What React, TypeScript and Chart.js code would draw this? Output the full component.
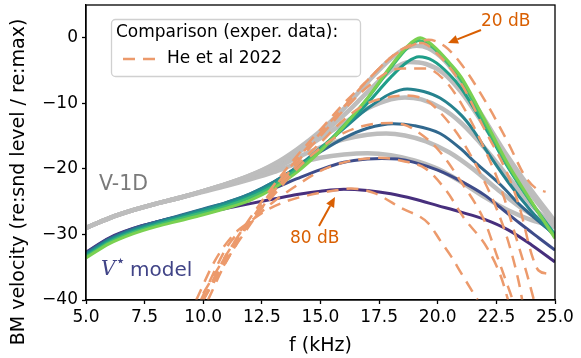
import React, { useEffect, useRef } from 'react';
import { Chart, registerables } from 'chart.js';

Chart.register(...registerables);

type P = [number, number];

// x axis / y axis ticks
const X_TICKS = [5, 7.5, 10, 12.5, 15, 17.5, 20, 22.5, 25];
const Y_TICKS = [-40, -30, -20, -10, 0];

// V* model curves (f in kHz, dB), levels 20..80 dB
const vStar20: P[] = [[5,-33.6],[6,-31.4],[7,-29.9],[8,-28.8],[9,-27.9],[10,-27],[11,-26],[12,-24.8],[13,-23],[14,-20.5],[15,-17.3],[16,-13.5],[17,-9.2],[18,-4.3],[18.7,-1.3],[19.25,0],[19.8,-1.2],[20.5,-3.8],[21,-6],[22,-12.5],[23,-19.3],[24,-25],[25,-30.6]];
const vStar30: P[] = [[5,-33.4],[6,-31.2],[7,-29.7],[8,-28.6],[9,-27.6],[10,-26.7],[11,-25.7],[12,-24.4],[13,-22.6],[14,-20.1],[15,-17],[16,-13.4],[17,-9.3],[18,-4.6],[18.7,-1.6],[19.2,-0.4],[19.8,-1.5],[20.5,-4.2],[21,-6.5],[22,-13],[23,-19.6],[24,-25.2],[25,-30.3]];
const vStar40: P[] = [[5,-33.2],[6,-31],[7,-29.5],[8,-28.4],[9,-27.4],[10,-26.4],[11,-25.4],[12,-24.1],[13,-22.3],[14,-19.9],[15,-17],[16,-13.7],[17,-10],[18,-6],[18.7,-3.7],[19.2,-2.9],[19.8,-3.5],[20.5,-5.6],[21,-7.7],[22,-13.5],[23,-19.8],[24,-25.2],[25,-30]];
const vStar50: P[] = [[5,-33],[6,-30.8],[7,-29.3],[8,-28.2],[9,-27.2],[10,-26.2],[11,-25.1],[12,-23.8],[13,-22],[14,-19.7],[15,-16.8],[16,-13.8],[17,-10.8],[18,-8.5],[18.7,-7.8],[19.4,-8.2],[20.1,-9.2],[21,-11.8],[21.5,-14],[22,-16.8],[23,-22],[24,-26.5],[25,-30.3]];
const vStar60: P[] = [[5,-32.9],[6,-30.7],[7,-29.2],[8,-28.1],[9,-27.1],[10,-26.1],[11,-25.1],[12,-23.8],[13,-22],[14,-19.8],[15,-17.4],[16,-15.3],[17,-13.8],[18.1,-13.1],[19,-13.4],[20.1,-14.6],[21,-17],[21.5,-18.7],[22.7,-22.5],[23.5,-25.5],[24.4,-28.3],[25,-30]];
const vStar70: P[] = [[5,-32.8],[6,-30.6],[7,-29.1],[8,-28.1],[9,-27.2],[10,-26.3],[11,-25.3],[12,-24.3],[13,-23],[14,-21.5],[15,-20.1],[16,-19],[17,-18.5],[17.6,-18.4],[18.3,-18.5],[19,-19],[20,-20.2],[21,-21.9],[22,-24],[22.6,-25.7],[23.5,-28.3],[24.3,-30.5],[25,-32.4]];
const vStar80: P[] = [[5,-32.7],[6,-30.5],[7,-29.1],[8,-28.1],[9,-27.3],[10,-26.7],[11,-26],[12,-25.3],[13,-24.6],[14,-23.9],[15,-23.4],[16,-23.1],[17,-23.3],[18,-23.8],[19,-24.6],[20,-25.6],[21,-26.6],[22,-27.7],[23,-29.3],[24,-31.6],[25,-34.2]];

// V-1D curves (gray)
const v1d1: P[] = [[5,-29],[6,-27.5],[7,-26.3],[8,-25.3],[9,-24.4],[10,-23.4],[11,-22.3],[12,-21],[13,-19.3],[14,-17],[15,-14.2],[16,-10.8],[17,-6.8],[18,-3.2],[18.7,-1.5],[19.1,-1.2],[19.6,-1.6],[20.3,-3.5],[21,-6.8],[22,-12.5],[23,-18.2],[24,-23.3],[25,-28]];
const v1d2: P[] = [[5,-29],[6,-27.5],[7,-26.3],[8,-25.3],[9,-24.4],[10,-23.4],[11,-22.3],[12,-21],[13,-19.4],[14,-17.3],[15,-14.8],[16,-11.8],[17,-8.3],[18,-5],[18.8,-3.7],[19.5,-4],[20.2,-5.3],[21,-8.3],[22,-13.5],[23,-19],[24,-24],[25,-28.5]];
const v1d3: P[] = [[5,-29],[6,-27.5],[7,-26.3],[8,-25.3],[9,-24.4],[10,-23.4],[11,-22.3],[12,-21.1],[13,-19.6],[14,-17.6],[15,-15.3],[16,-13],[17,-10.8],[18,-9.4],[18.6,-9.1],[19.3,-9.4],[20.2,-10.8],[21,-13],[22,-16.8],[23,-21.2],[24,-25.5],[25,-29]];
const v1d4: P[] = [[5,-29],[6,-27.5],[7,-26.3],[8,-25.3],[9,-24.4],[10,-23.4],[11,-22.4],[12,-21.3],[13,-20],[14,-18.3],[15,-16.7],[16,-15.5],[17,-14.8],[17.8,-14.6],[18.6,-14.9],[19.5,-15.8],[20.5,-17.5],[21.5,-20],[22.5,-23],[23.5,-25.8],[24.3,-27.6],[25,-28.8]];
const v1d5: P[] = [[5,-29],[6,-27.5],[7,-26.3],[8,-25.3],[9,-24.4],[10,-23.5],[11,-22.6],[12,-21.6],[13,-20.5],[14,-19.2],[15,-18.3],[16,-17.8],[17,-17.6],[18,-17.9],[19,-18.7],[20,-20],[21,-22],[22,-24.3],[23,-26.3],[24,-27.8],[25,-28.8]];

// He et al 2022 (dashed)
const he20: P[] = [[10,-39],[11,-33],[12,-27.5],[13,-22.5],[14,-18],[15,-14],[16,-10],[17,-6.5],[18,-3],[19,-1],[19.6,-0.3],[20.3,-1.3],[21,-4],[22,-9.5],[23,-16],[23.7,-21],[24.2,-23],[24.6,-23.5]];
const he30: P[] = [[10,-40],[11,-34],[12,-28],[13,-23],[14,-18.5],[15,-14.5],[16,-10.5],[17,-6.5],[18,-3],[18.7,-1.3],[19.3,-0.8],[20,-2.5],[21,-7],[22,-14],[23,-21],[23.5,-26],[24,-33],[24.3,-35.5],[24.7,-36]];
const he40: P[] = [[10.2,-40],[11,-34],[12,-28.5],[13,-23.5],[14,-19],[15,-15],[16,-11],[17,-7.5],[18,-5],[18.5,-4.7],[19.5,-4.7],[20.3,-6.5],[21,-10],[22,-17],[22.7,-23],[23.3,-30],[23.8,-36],[24.1,-40]];
const he50: P[] = [[10,-40],[11,-33.5],[12,-28],[13,-23.5],[14,-19.5],[15,-16],[16,-12.5],[17,-10],[18,-9],[18.7,-8.8],[19.5,-9.5],[20,-11],[21,-15.5],[22,-22],[22.5,-26],[23,-31],[23.5,-38],[23.6,-40]];
const he60: P[] = [[10,-40],[11,-33],[12,-28],[13,-24],[14,-20],[15,-16.8],[16,-14.5],[17,-13.3],[18,-13],[18.5,-13.2],[19,-14],[20,-17],[21,-22],[22,-28],[22.5,-33],[23,-38],[23.2,-40]];
const he70: P[] = [[9.9,-40],[11,-32],[11.7,-29],[12.5,-26.5],[13,-25],[14,-22.5],[15,-20.3],[16,-19],[17,-18.4],[17.5,-18.3],[18.5,-18.8],[19.5,-20],[20.4,-23.5],[21.1,-27.4],[22.1,-32],[22.7,-36.5],[23,-40]];
const he80: P[] = [[9.7,-40],[10.5,-34],[11.3,-30],[12,-28],[12.7,-26.3],[13.5,-25],[14.5,-24],[15.6,-23.3],[16.3,-23],[17.3,-23.7],[18.4,-25.9],[19.6,-28.3],[20.1,-30.9],[20.6,-33.5],[21,-35.9],[21.7,-40]];

const V_STAR = [vStar80, vStar70, vStar60, vStar50, vStar40, vStar30, vStar20];
const V_STAR_COLORS = ['#472f7d', '#3e4c8a', '#31688e', '#26828e', '#1f9e89', '#3fbc73', '#7ad151'];
const V1D = [v1d1, v1d2, v1d3, v1d4, v1d5];
const HE = [he20, he30, he40, he50, he60, he70, he80];

const FONT = '"DejaVu Sans", "Liberation Sans", sans-serif';
const DASH_COLOR = '#ec9a6c';
const ANNOT_COLOR = '#d95f02';

function mk(points: P[], color: string, width: number, order: number, dash?: number[]) {
  return {
    data: points.map(([x, y]) => ({ x, y })),
    borderColor: color,
    backgroundColor: color,
    borderWidth: width,
    borderDash: dash || [],
    pointRadius: 0,
    cubicInterpolationMode: 'monotone' as const,
    fill: false,
    order,
    borderCapStyle: 'butt' as const,
  };
}

function arrow(ctx: CanvasRenderingContext2D, x1: number, y1: number, x2: number, y2: number, color: string) {
  const ang = Math.atan2(y2 - y1, x2 - x1);
  const hl = 10, hw = 4.5;
  const bx = x2 - hl * Math.cos(ang), by = y2 - hl * Math.sin(ang);
  ctx.save();
  ctx.strokeStyle = color;
  ctx.fillStyle = color;
  ctx.lineWidth = 2;
  ctx.beginPath();
  ctx.moveTo(x1, y1);
  ctx.lineTo(bx, by);
  ctx.stroke();
  ctx.beginPath();
  ctx.moveTo(x2, y2);
  ctx.lineTo(bx + hw * Math.sin(ang), by - hw * Math.cos(ang));
  ctx.lineTo(bx - hw * Math.sin(ang), by + hw * Math.cos(ang));
  ctx.closePath();
  ctx.fill();
  ctx.restore();
}

const annotPlugin = {
  id: 'annot',
  afterDatasetsDraw(chart: any) {
    const ctx: CanvasRenderingContext2D = chart.ctx;
    const a = chart.chartArea;
    ctx.save();
    // frame
    ctx.strokeStyle = '#000';
    ctx.lineWidth = 1.3;
    ctx.strokeRect(a.left, a.top, a.right - a.left, a.bottom - a.top);

    // axis titles
    ctx.fillStyle = '#000';
    ctx.textAlign = 'center';
    ctx.textBaseline = 'middle';
    ctx.font = `19px ${FONT}`;
    ctx.fillText('f (kHz)', (a.left + a.right) / 2, 346);
    ctx.save();
    ctx.translate(19, 182);
    ctx.rotate(-Math.PI / 2);
    ctx.fillText('BM velocity (re:snd level / re:max)', 0, 0);
    ctx.restore();

    // texts
    ctx.textBaseline = 'middle';
    ctx.textAlign = 'left';
    ctx.fillStyle = '#7a7a7a';
    ctx.font = `20.5px ${FONT}`;
    ctx.fillText('V-1D', 99, 185);

    ctx.fillStyle = '#414487';
    ctx.font = `italic 20px "DejaVu Serif", serif`;
    ctx.fillText('V', 101, 270);
    const vw = ctx.measureText('V').width;
    ctx.font = `16px ${FONT}`;
    ctx.fillText('\u22c6', 101 + vw + 0, 262);
    ctx.font = `20px ${FONT}`;
    ctx.fillText('model', 130, 271);

    ctx.fillStyle = ANNOT_COLOR;
    ctx.font = `17px ${FONT}`;
    ctx.fillText('20 dB', 481, 22);
    ctx.fillText('80 dB', 290, 239);
    arrow(ctx, 481, 30, 448, 43, ANNOT_COLOR);
    arrow(ctx, 319, 226, 335, 197, ANNOT_COLOR);

    // legend
    ctx.beginPath();
    (ctx as any).roundRect(111.5, 19.5, 249, 57, 4);
    ctx.fillStyle = 'rgba(255,255,255,0.8)';
    ctx.fill();
    ctx.strokeStyle = '#d0d0d0';
    ctx.lineWidth = 1.3;
    ctx.stroke();
    ctx.fillStyle = '#000';
    ctx.font = `17px ${FONT}`;
    ctx.fillText('Comparison (exper. data):', 116, 33);
    ctx.fillText('He et al 2022', 167, 59);
    ctx.strokeStyle = DASH_COLOR;
    ctx.lineWidth = 2.5;
    ctx.setLineDash([12, 8]);
    ctx.beginPath();
    ctx.moveTo(123, 59);
    ctx.lineTo(158, 59);
    ctx.stroke();
    ctx.restore();
  },
};

export default function App() {
  const ref = useRef<HTMLCanvasElement | null>(null);
  useEffect(() => {
    document.body.style.margin = '0';
    const datasets: any[] = [];
    V1D.forEach((p) => datasets.push(mk(p, '#bdbdbd', 4.5, 3)));
    V_STAR.forEach((p, i) => datasets.push(mk(p, V_STAR_COLORS[i], 3, 2 - i * 0.1)));
    HE.forEach((p) => datasets.push(mk(p, DASH_COLOR, 2.5, 0, [12, 8])));
    const tickFont = { family: FONT, size: 17 };
    const chart = new Chart(ref.current as HTMLCanvasElement, {
      type: 'line',
      data: { datasets },
      plugins: [annotPlugin],
      options: {
        responsive: false,
        animation: false,
        layout: { padding: { left: 0, right: 26, top: 5, bottom: 0 } },
        plugins: { legend: { display: false }, tooltip: { enabled: false } },
        scales: {
          x: {
            type: 'linear',
            min: 5,
            max: 25,
            afterBuildTicks: (s: any) => { s.ticks = X_TICKS.map((v) => ({ value: v })); },
            afterFit: (s: any) => { s.height = 58; s.paddingLeft = 0; s.paddingRight = 0; s.paddingTop = 0; s.paddingBottom = 0; },
            ticks: {
              callback: (v: any) => Number(v).toFixed(1),
              font: tickFont,
              color: '#000',
              padding: 3,
              maxRotation: 0,
              autoSkip: false,
            },
            grid: { drawOnChartArea: false, color: '#000', tickLength: 4, tickWidth: 1.3 },
            border: { color: '#000', width: 1.3 },
            title: { display: false },
          },
          y: {
            type: 'linear',
            min: -40,
            max: 5,
            afterBuildTicks: (s: any) => { s.ticks = Y_TICKS.map((v) => ({ value: v })); },
            afterFit: (s: any) => { s.width = 86; s.paddingLeft = 0; s.paddingRight = 0; s.paddingTop = 0; s.paddingBottom = 0; },
            ticks: {
              callback: (v: any) => (Number(v) < 0 ? '\u2212' + Math.abs(Number(v)) : String(v)),
              font: tickFont,
              color: '#000',
              padding: 4,
              autoSkip: false,
            },
            grid: { drawOnChartArea: false, color: '#000', tickLength: 4, tickWidth: 1.3 },
            border: { color: '#000', width: 1.3 },
            title: { display: false },
          },
        },
      } as any,
    });
    return () => chart.destroy();
  }, []);
  return (
    <div style={{ position: 'fixed', left: 0, top: 0, width: 581, height: 358 }}>
      <canvas ref={ref} width={581} height={358} style={{ display: 'block', width: 581, height: 358 }} />
    </div>
  );
}
